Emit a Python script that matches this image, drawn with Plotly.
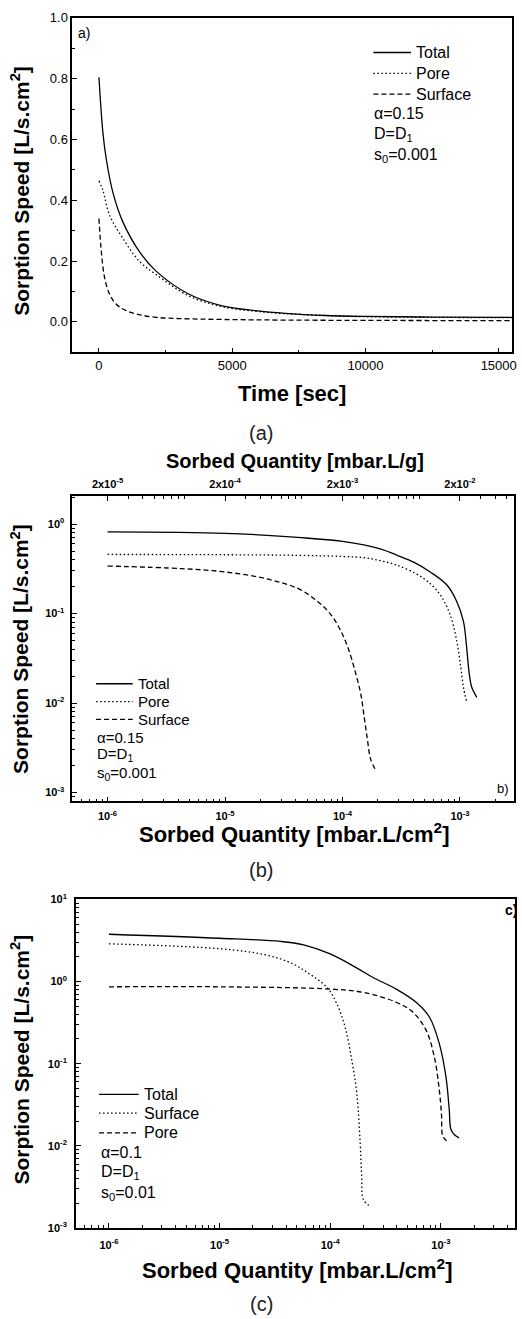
import plotly.graph_objects as go

W, H = 522, 1319
FONT = "Liberation Sans, Arial, sans-serif"

# ---------------- data: panel (a) ----------------
time_total_a = [0, 150, 276, 522, 896, 1519, 2142, 3384, 4627, 5873, 6993, 8500, 10000, 12500, 15500]
total_a = [0.805, 0.621, 0.535, 0.426, 0.329, 0.231, 0.167, 0.091, 0.053, 0.037, 0.028, 0.021, 0.018, 0.016, 0.015]
time_pore_a = [0, 150, 400, 896, 1519, 2142, 3384, 4627, 5873, 7000, 8500, 10000, 12500, 15500]
pore_a = [0.464, 0.432, 0.351, 0.275, 0.199, 0.156, 0.085, 0.050, 0.035, 0.027, 0.021, 0.017, 0.015, 0.014]
time_surface_a = [0, 90, 213, 400, 650, 1022, 1500, 2142, 3000, 4627, 7000, 10000, 15500]
surface_a = [0.34, 0.23, 0.145, 0.091, 0.058, 0.037, 0.024, 0.015, 0.011, 0.008, 0.006, 0.005, 0.004]

# ---------------- data: panel (b) ----------------
q_total_b = [1e-6, 1e-5, 4.17e-5, 1e-4, 2.09e-4, 2.92e-4, 4.07e-4, 5.58e-4, 7.74e-4, 9.4e-4, 1.07e-3, 1.14e-3, 1.20e-3, 1.26e-3, 1.39e-3]
total_b = [0.82, 0.79, 0.71, 0.64, 0.53, 0.448, 0.373, 0.292, 0.209, 0.136, 0.082, 0.0416, 0.0211, 0.015, 0.0116]
q_pore_b = [1e-6, 1e-5, 4.17e-5, 1e-4, 1.58e-4, 2.09e-4, 2.92e-4, 4.91e-4, 6.79e-4, 8.24e-4, 9.4e-4, 1.016e-3, 1.07e-3, 1.14e-3]
pore_b = [0.458, 0.455, 0.448, 0.435, 0.42, 0.39, 0.347, 0.247, 0.162, 0.097, 0.049, 0.025, 0.015, 0.0103]
q_surface_b = [1e-6, 4.31e-6, 1e-5, 2.19e-5, 4.17e-5, 6.17e-5, 7.98e-5, 9.70e-5, 1.14e-4, 1.30e-4, 1.43e-4, 1.53e-4, 1.63e-4, 1.74e-4, 1.91e-4]
surface_b = [0.34, 0.318, 0.292, 0.247, 0.191, 0.136, 0.097, 0.0635, 0.038, 0.021, 0.0127, 0.0070, 0.0039, 0.00233, 0.0018]
mass_factor_b = 20  # mbar.L/g = 20 x mbar.L/cm2 (top axis)

# ---------------- data: panel (c) ----------------
q_total_c = [1e-6, 1e-5, 3.56e-5, 5.75e-5, 1e-4, 1.73e-4, 2.44e-4, 3.95e-4, 5.97e-4, 7.87e-4, 9.66e-4, 1.109e-3, 1.189e-3, 1.23e-3, 1.318e-3, 1.459e-3]
total_c = [3.77, 3.37, 3.08, 2.8, 2.17, 1.47, 1.12, 0.81, 0.56, 0.37, 0.177, 0.0705, 0.028, 0.016, 0.0137, 0.0125]
q_surface_c = [1e-6, 1e-5, 2.53e-5, 4.39e-5, 6.61e-5, 9.33e-5, 1.148e-4, 1.361e-4, 1.563e-4, 1.734e-4, 1.862e-4, 1.923e-4, 1.995e-4, 2.29e-4]
surface_c = [2.88, 2.51, 2.13, 1.69, 1.22, 0.85, 0.535, 0.28, 0.112, 0.0445, 0.0112, 0.0044, 0.0022, 0.00185]
q_pore_c = [1e-6, 1e-5, 1e-4, 1.99e-4, 3.95e-4, 5.57e-4, 7.35e-4, 8.71e-4, 9.66e-4, 1.014e-3, 1.035e-3, 1.109e-3, 1.189e-3]
pore_c = [0.863, 0.863, 0.81, 0.738, 0.56, 0.425, 0.256, 0.122, 0.0488, 0.0233, 0.0134, 0.0117, 0.0109]

# ---------------- tick labels ----------------
log_x_ticks = [1e-6, 1e-5, 1e-4, 1e-3]
log_x_text = ["10<sup>-6</sup>", "10<sup>-5</sup>", "10<sup>-4</sup>", "10<sup>-3</sup>"]
top_x_ticks = [2e-5, 2e-4, 2e-3, 2e-2]
top_x_text = ["2x10<sup>-5</sup>", "2x10<sup>-4</sup>", "2x10<sup>-3</sup>", "2x10<sup>-2</sup>"]
b_y_ticks = [1e-3, 1e-2, 1e-1, 1]
b_y_text = ["10<sup>-3</sup>", "10<sup>-2</sup>", "10<sup>-1</sup>", "10<sup>0</sup>"]
c_y_ticks = [1e-3, 1e-2, 1e-1, 1, 10]
c_y_text = ["10<sup>-3</sup>", "10<sup>-2</sup>", "10<sup>-1</sup>", "10<sup>0</sup>", "10<sup>1</sup>"]

minor_log = [k * 10.0 ** n for n in range(-8, 2) for k in range(2, 10)]


def fx(px):
    return px / W


def fy(py):
    return 1 - py / H


LW = 1.3
DOT = "1.5px,2.5px"
DASH = "5px,3px"
fig = go.Figure()


def line(x, y, dash, xa, ya):
    fig.add_trace(go.Scatter(x=x, y=y, mode="lines", showlegend=False, hoverinfo="skip",
                             line=dict(color="black", width=LW, dash=dash, shape="spline"),
                             xaxis=xa, yaxis=ya))


# panel a
line(time_total_a, total_a, "solid", "x", "y")
line(time_pore_a, pore_a, DOT, "x", "y")
line(time_surface_a, surface_a, DASH, "x", "y")
# panel b
line(q_total_b, total_b, "solid", "x2", "y2")
line(q_pore_b, pore_b, DOT, "x2", "y2")
line(q_surface_b, surface_b, DASH, "x2", "y2")
# invisible companion trace so the top (mbar.L/g) axis is drawn
fig.add_trace(go.Scatter(x=[q * mass_factor_b for q in q_total_b], y=total_b, mode="lines",
                         opacity=0, showlegend=False, hoverinfo="skip", line=dict(width=0),
                         xaxis="x4", yaxis="y2"))
# panel c
line(q_total_c, total_c, "solid", "x3", "y3")
line(q_surface_c, surface_c, DOT, "x3", "y3")
line(q_pore_c, pore_c, DASH, "x3", "y3")

tickfont_a = dict(family=FONT, size=13, color="black")
tickfont_log = dict(family=FONT, size=11, color="black", weight="bold")
axis_common = dict(showline=True, linecolor="black", linewidth=1.6, showgrid=False, zeroline=False,
                   ticks="inside", tickcolor="black", ticklen=5, tickwidth=1.2)
minor_log_cfg = dict(ticks="inside", tickmode="array", tickvals=minor_log, ticklen=3, tickcolor="black")

layout = dict(
    width=W, height=H, margin=dict(l=0, r=0, t=0, b=0),
    paper_bgcolor="white", plot_bgcolor="white", showlegend=False,
    # panel a axes
    xaxis=dict(domain=[fx(73), fx(517)], anchor="y", range=[-1000, 15500], tickvals=[0, 5000, 10000, 15000],
               tickformat="d", ticklabelstandoff=0,
               minor=dict(ticks="inside", dtick=2500, tick0=0, ticklen=3, tickcolor="black"),
               tickfont=tickfont_a, mirror=True, **axis_common),
    yaxis=dict(domain=[fy(348), fy(10)], anchor="x", range=[-0.1, 1.0], dtick=0.2, tick0=0, tickformat=".1f",
               ticklabelstandoff=0,
               minor=dict(ticks="inside", dtick=0.1, tick0=0, ticklen=3, tickcolor="black"),
               tickfont=tickfont_a, mirror=True, **axis_common),
    # panel b axes
    xaxis2=dict(domain=[fx(73), fx(519)], anchor="y2", type="log", range=[-6.3, -2.54],
                tickmode="array", tickvals=log_x_ticks, ticktext=log_x_text, minor=minor_log_cfg,
                tickfont=tickfont_log, mirror=True, ticklabelstandoff=4, **axis_common),
    xaxis4=dict(domain=[fx(73), fx(519)], anchor="y2", overlaying="x2", side="top", type="log",
                range=[-6.3 + 1.30103, -2.54 + 1.30103],
                tickmode="array", tickvals=top_x_ticks, ticktext=top_x_text, minor=minor_log_cfg,
                tickfont=tickfont_log, ticklabelstandoff=2, **axis_common),
    yaxis2=dict(domain=[fy(802), fy(493)], anchor="x2", type="log", range=[-3.1, 0.317],
                tickmode="array", tickvals=b_y_ticks, ticktext=b_y_text, minor=minor_log_cfg,
                tickfont=tickfont_log, mirror=True, ticklabelstandoff=4, **axis_common),
    # panel c axes
    xaxis3=dict(domain=[fx(76.7), fx(520)], anchor="y3", type="log", range=[-6.298, -2.33],
                tickmode="array", tickvals=log_x_ticks, ticktext=log_x_text, minor=minor_log_cfg,
                tickfont=tickfont_log, mirror=True, ticklabelstandoff=6, **axis_common),
    yaxis3=dict(domain=[fy(1233), fy(901)], anchor="x3", type="log", range=[-3, 1],
                tickmode="array", tickvals=c_y_ticks, ticktext=c_y_text, minor=minor_log_cfg,
                tickfont=tickfont_log, mirror=True, ticklabelstandoff=5, **axis_common),
)
fig.update_layout(**layout)

ann = []
shapes = []


def text(px, py, s, size=16, bold=False, angle=0, xanchor="left", color="black"):
    f = dict(family=FONT, size=size, color=color)
    if bold:
        f["weight"] = "bold"
    ann.append(dict(x=fx(px), y=fy(py), xref="paper", yref="paper", text=s, showarrow=False,
                    font=f, textangle=angle, xanchor=xanchor, yanchor="middle"))


def legend_entry(x0, x1, py, dash, label, size):
    shapes.append(dict(type="line", xref="paper", yref="paper", x0=fx(x0), x1=fx(x1), y0=fy(py), y1=fy(py),
                       line=dict(color="black", width=LW, dash=dash)))
    text(x1 + 3, py, label, size)


ytitle = "Sorption Speed [L/s.cm<sup>2</sup>]"
# panel a
text(20, 185, ytitle, 21, True, -90, "center")
text(295, 390, "Time [sec]", 22, True, 0, "center")
text(264, 430, "(a)", 20, False, 0, "center", "#222")
text(77, 25, "a)", 14)
legend_entry(377, 415, 45, "solid", "Total", 16)
legend_entry(377, 415, 66, DOT, "Pore", 16)
legend_entry(377, 415, 87, DASH, "Surface", 16)
text(376, 107, "\u03b1=0.15", 16)
text(376, 128, "D=D<sub>1</sub>", 16)
text(376, 149, "s<sub>0</sub>=0.001", 16)
# panel b
text(20, 648, ytitle, 21, True, -90, "center")
text(298, 458, "Sorbed Quantity [mbar.L/g]", 20, True, 0, "center")
text(297, 834, "Sorbed Quantity [mbar.L/cm<sup>2</sup>]", 22, True, 0, "center")
text(264, 871, "(b)", 20, False, 0, "center", "#222")
text(500, 789, "b)", 13)
legend_entry(97, 134, 683, "solid", "Total", 15)
legend_entry(97, 134, 701, DOT, "Pore", 15)
legend_entry(97, 134, 719, DASH, "Surface", 15)
text(96, 737, "\u03b1=0.15", 15)
text(96, 755, "D=D<sub>1</sub>", 15)
text(96, 774, "s<sub>0</sub>=0.001", 15)
# panel c
text(20, 1063, ytitle, 21, True, -90, "center")
text(300, 1275, "Sorbed Quantity [mbar.L/cm<sup>2</sup>]", 22, True, 0, "center")
text(264, 1310, "(c)", 20, False, 0, "center", "#222")
text(508, 912, "c)", 14, True)
legend_entry(100, 140, 1098, "solid", "Total", 16)
legend_entry(100, 140, 1117, DOT, "Surface", 16)
legend_entry(100, 140, 1137, DASH, "Pore", 16)
text(100, 1157, "\u03b1=0.1", 16)
text(100, 1177, "D=D<sub>1</sub>", 16)
text(100, 1198, "s<sub>0</sub>=0.01", 16)

fig.update_layout(annotations=ann, shapes=shapes)
fig.write_html("out.html")
